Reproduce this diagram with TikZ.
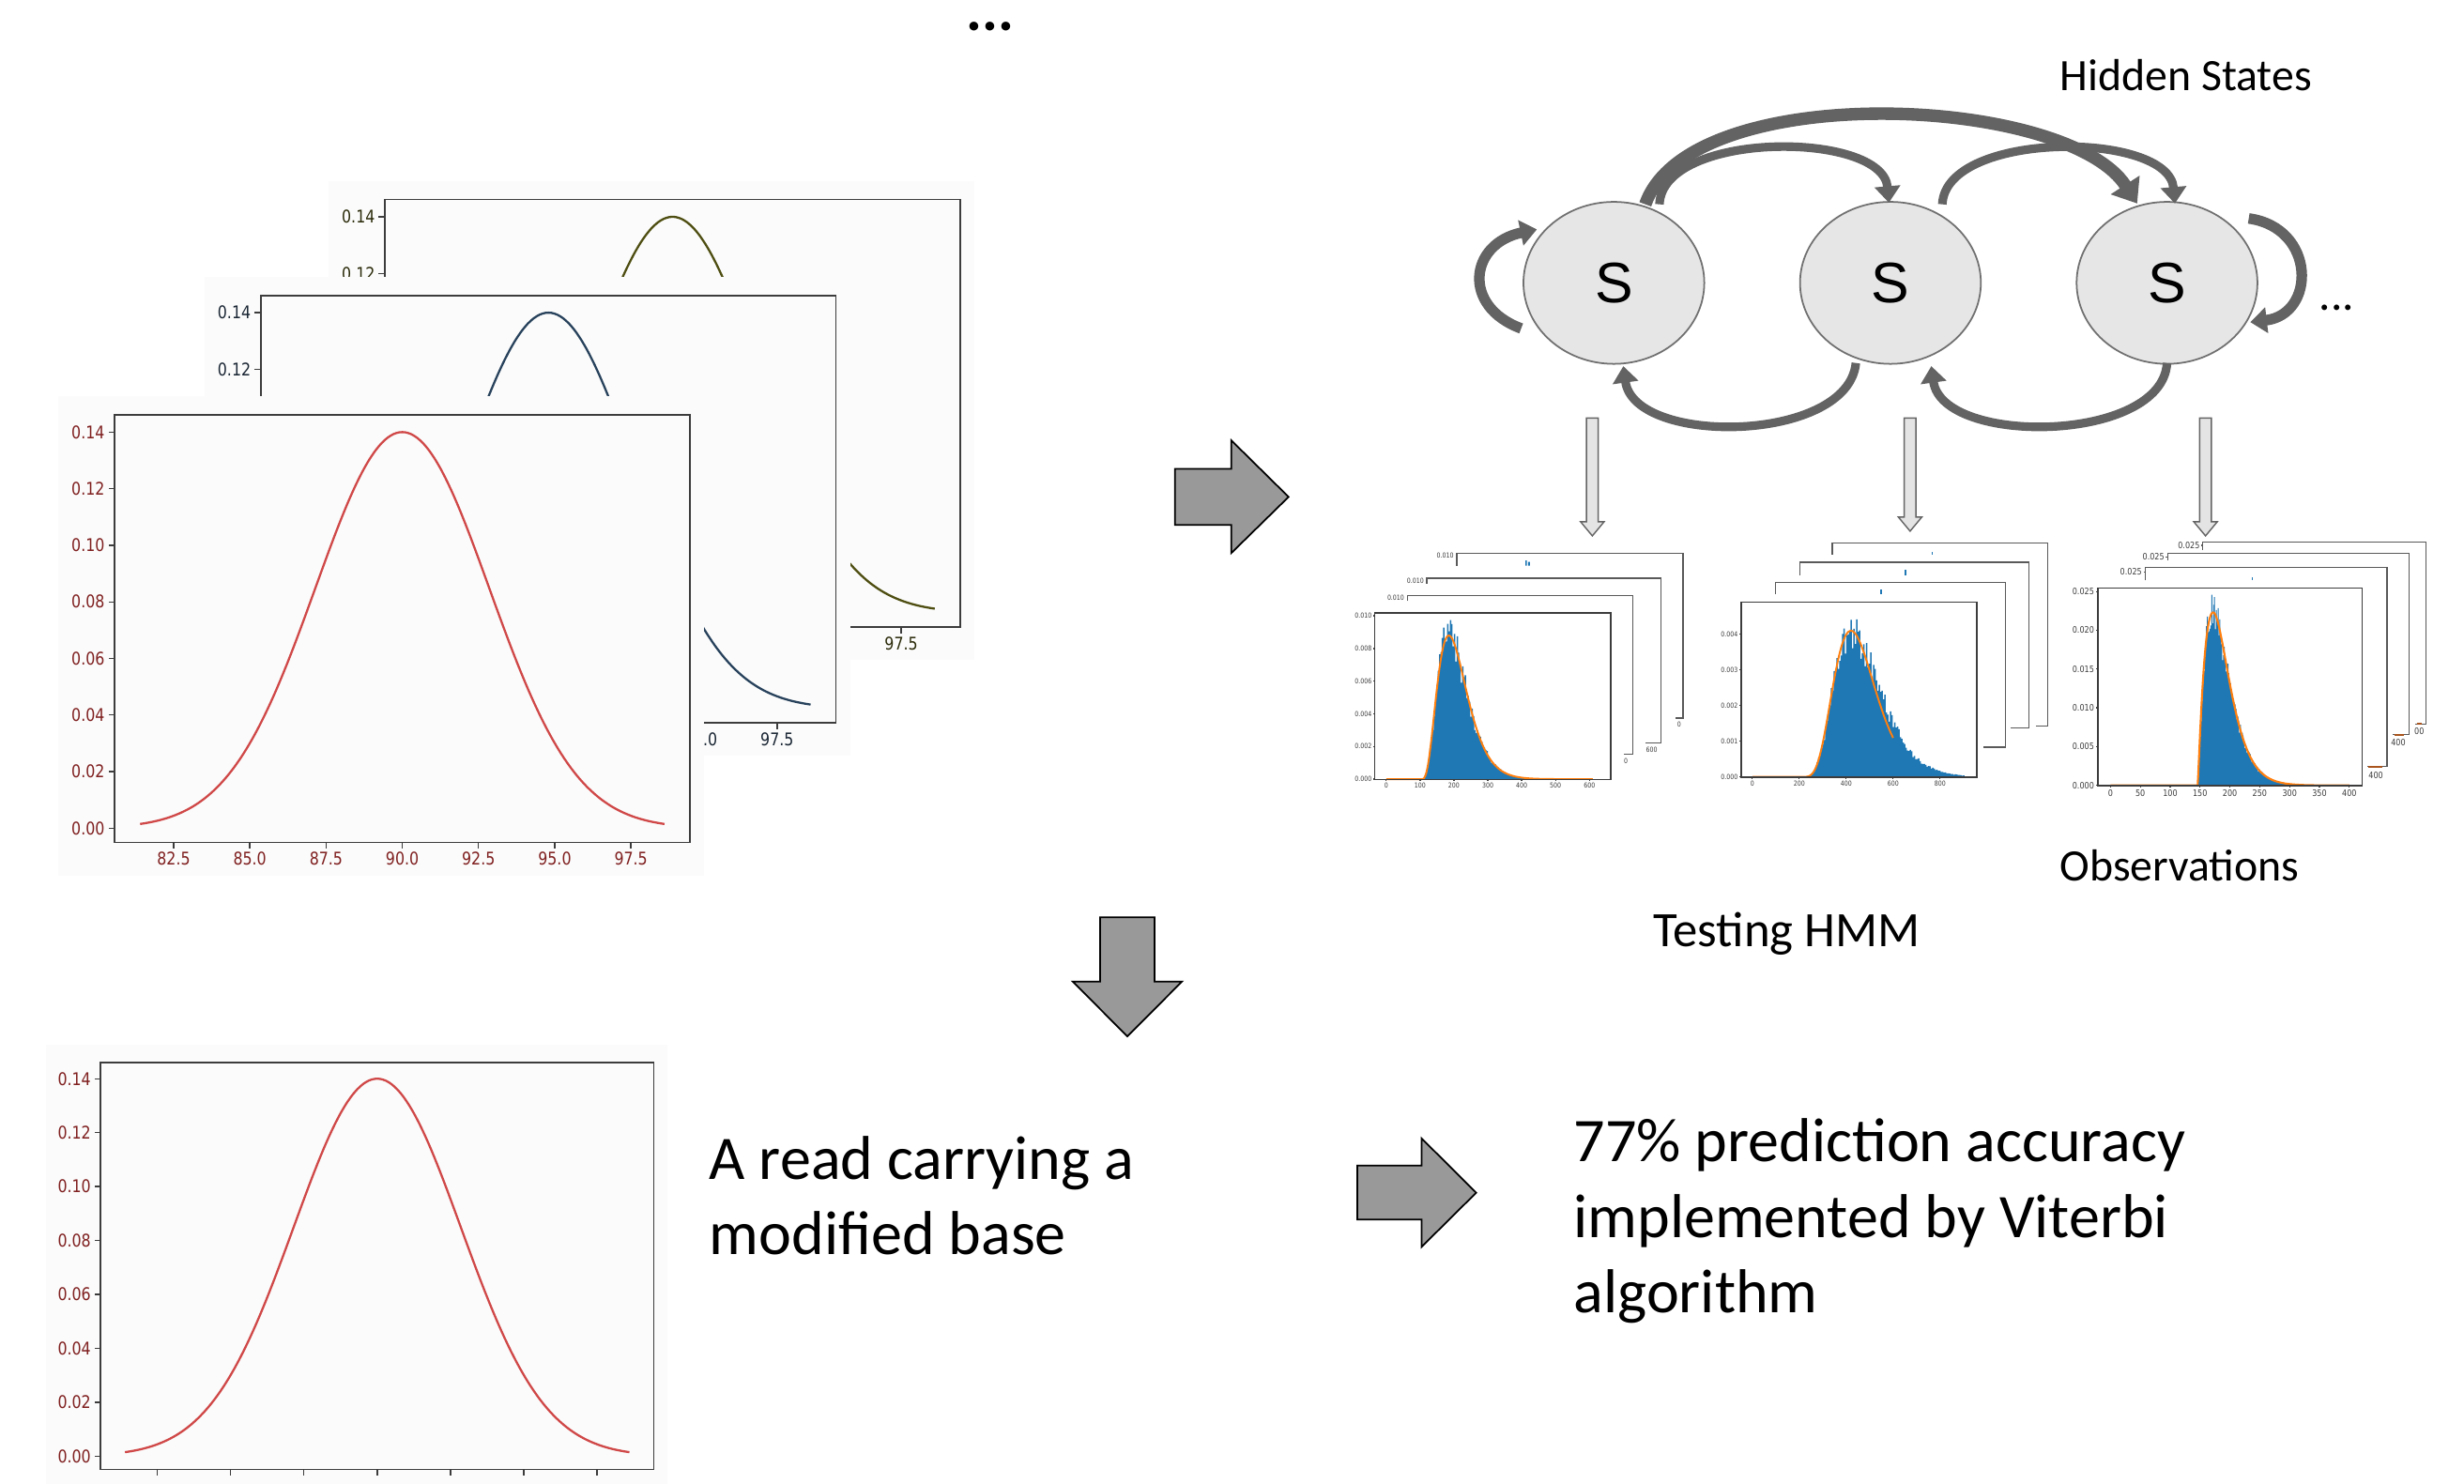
\documentclass[tikz,border=0pt]{standalone}
\usepackage{fontspec}
\setmainfont{Carlito}
\newfontfamily\statefont{Liberation Sans}
\newfontfamily\tickfont[FakeStretch=0.85]{DejaVu Sans}
\usetikzlibrary{arrows.meta,calc,shapes.geometric}

\definecolor{plotbg}{RGB}{251,251,251}
\definecolor{redcurve}{RGB}{208,72,72}
\definecolor{redlab}{RGB}{128,32,32}
\definecolor{navycurve}{RGB}{40,66,92}
\definecolor{navylab}{RGB}{26,38,52}
\definecolor{olivecurve}{RGB}{78,78,18}
\definecolor{olivelab}{RGB}{43,43,11}
\definecolor{histblue}{RGB}{31,119,180}
\definecolor{fitorange}{RGB}{255,127,14}
\definecolor{fitbrown}{RGB}{170,85,30}
\definecolor{statefill}{RGB}{230,230,230}
\definecolor{stateline}{RGB}{112,112,112}
\definecolor{transgray}{RGB}{99,99,99}
\definecolor{blockgray}{RGB}{153,153,153}
\definecolor{emitfill}{RGB}{228,228,228}
\definecolor{emitline}{RGB}{100,100,100}
\definecolor{axisgray}{RGB}{60,60,60}

\tikzset{
  gticklab/.style={font=\tickfont\fontsize{5.3}{6}\selectfont, inner sep=0pt},
  hlabA/.style={font=\tickfont\fontsize{2.1}{2.5}\selectfont, inner sep=0pt, text=axisgray},
  hlabC/.style={font=\tickfont\fontsize{2.7}{3}\selectfont, inner sep=0pt, text=axisgray},
  hax/.style={draw=axisgray, line width=0.35pt},
  hback/.style={draw=axisgray!85, line width=0.35pt},
  hmmstate/.style={ellipse, draw=stateline, fill=statefill, line width=0.5pt,
    minimum width=54.8pt, minimum height=49.1pt, inner sep=0pt,
    font=\statefont\fontsize{17.3}{20}\selectfont},
  trans/.style={draw=transgray, line width=2.6pt, -{Triangle[width=7.6pt,length=5pt]}},
  bigtrans/.style={draw=transgray, line width=3.8pt, -{Triangle[width=10pt,length=6.7pt]}},
  selfloop/.style={draw=transgray, line width=3.2pt, -{Triangle[width=7.6pt,length=5pt]}},
  blockarrow/.style={fill=blockgray, draw=black, line width=0.5pt, line join=miter},
  emit/.style={fill=emitfill, draw=emitline, line width=0.4pt},
  bigtext/.style={font=\fontsize{18.8}{22.9}\selectfont, inner sep=0pt},
  midtext/.style={font=\fontsize{13.6}{16}\selectfont, inner sep=0pt},
}

% one matplotlib-style density plot; #1 name prefix, #2/#3 top-left of the axes box,
% #4/#5 scale, #6 curve colour, #7 tick label colour, #8 = 1 to print the x tick labels
\newcommand\gaussplot[8]{%
  \begin{scope}[shift={(#2,#3)}, xscale=#4, yscale=#5]
    \fill[plotbg] (-36,-12) rectangle (375,293);
    \draw[axisgray, line width=0.45pt] (0,0) rectangle (366,272);
    \foreach \yy/\lab [count=\i] in {11/0.14,47/0.12,83/0.10,119/0.08,155/0.06,191/0.04,227/0.02,263/0.00}{
      \draw[axisgray, line width=0.4pt] (0,\yy) -- (-4,\yy);
      \node[gticklab, text=#7, anchor=east] (#1y\i) at (-6,\yy) {\lab};
    }
    \foreach \xx/\lab [count=\i] in {37.5/82.5,86/85.0,134.5/87.5,183/90.0,231.5/92.5,280/95.0,328.5/97.5}{
      \draw[axisgray, line width=0.4pt] (\xx,272) -- (\xx,276);
      \ifnum#8=1 \node[gticklab, text=#7, anchor=north] (#1x\i) at (\xx,278) {\lab};\fi
    }
    \draw[#6, line width=0.65pt] plot[domain=81.4:98.6, samples=90, smooth]
      ({183+(\x-90)*19.4},{263-252*exp(-(\x-90)*(\x-90)/16.245)});
  \end{scope}}

% hollow emission arrow: #1 centre x, #2 tip y
\newcommand\emitarrow[2]{%
  \draw[emit] ({#1-3.75},266) -- ({#1+3.75},266) -- ({#1+3.75},{#2-9}) -- ({#1+7.5},{#2-9})
    -- (#1,#2) -- ({#1-7.5},{#2-9}) -- ({#1-3.75},{#2-9}) -- cycle;}

\begin{document}
\begin{tikzpicture}[x=0.016741cm, y=-0.016741cm,
  declare function={
    fa(\u)=(\u>105)*8.8*exp(max(-9,3.3*(ln(max(\u-105,1)/80)-max(\u-105,1)/80+1)));
    fbc(\u)=(\u>200)*4.1*exp(max(-9,6*(ln(max(\u-200,1)/220)-max(\u-200,1)/220+1)));
    fbb(\u)=(\u>200)*4.1*exp(max(-9,((\u<420)?6:4.5)*(ln(max(\u-200,1)/220)-max(\u-200,1)/220+1)));
    fc(\u)=(\u>146)*22.3*exp(max(-9,((\u<172)?1.2:1.54)*(ln(max(\u-146,1)/26)-max(\u-146,1)/26+1)));
  }]
\clip (0,0) rectangle (1568,944);
\fill[white] (0,0) rectangle (1568,944);

% ---------- stacked density plots ----------
\gaussplot{gb}{245}{127}{1}{1}{olivecurve}{olivelab}{1}
\gaussplot{gm}{166}{188}{1}{1}{navycurve}{navylab}{1}
\gaussplot{gf}{73}{264}{1}{1}{redcurve}{redlab}{1}
\gaussplot{gs}{64}{676}{0.962}{0.953}{redcurve}{redlab}{0}

% ---------- block arrows ----------
\draw[blockarrow] (747.7,298.3) -- (783.5,298.3) -- (783.5,280.2) -- (820,316.2)
  -- (783.5,352) -- (783.5,334) -- (747.7,334) -- cycle;
\draw[blockarrow] (700,583.8) -- (734.7,583.8) -- (734.7,624.6) -- (752.2,624.6)
  -- (717.4,659.5) -- (682.6,624.6) -- (700,624.6) -- cycle;
\draw[blockarrow] (863.7,741.7) -- (904.6,741.7) -- (904.6,724.4) -- (939.4,759)
  -- (904.6,793.5) -- (904.6,776.1) -- (863.7,776.1) -- cycle;

% ---------- hidden Markov chain ----------
\node[hmmstate] (s1) at (1027,180) {S};
\node[hmmstate] (s2) at (1203,180) {S};
\node[hmmstate] (s3) at (1379,180) {S};

\draw[bigtrans] ($(s1)+(20,-50)$) .. controls ($(s1)+(48,-130)$) and ($(s3)+(-64,-120)$) .. ($(s3)+(-19,-50.5)$);
\draw[trans] ($(s1)+(29,-50)$) .. controls ($(s1)+(31,-97)$) and ($(s2)+(-5,-97)$) .. ($(s2)+(-1,-51)$);
\draw[trans] ($(s2)+(33,-50)$) .. controls ($(s2)+(35,-97)$) and ($(s3)+(1,-97)$) .. ($(s3)+(5,-50.5)$);
\draw[trans] ($(s2)+(-22,51)$) .. controls ($(s2)+(-27,102)$) and ($(s1)+(13,104)$) .. ($(s1)+(6,53)$);
\draw[trans] ($(s3)+(0,51)$) .. controls ($(s3)+(-3,102)$) and ($(s2)+(33,104)$) .. ($(s2)+(26,53)$);
\draw[selfloop] ($(s1)+(-59,29)$) .. controls ($(s1)+(-97,15)$) and ($(s1)+(-92,-25)$) .. ($(s1)+(-49,-34)$);
\draw[selfloop] ($(s3)+(52,-41)$) .. controls ($(s3)+(95,-35)$) and ($(s3)+(95,20)$) .. ($(s3)+(53,25)$);

\emitarrow{1013.3}{341}
\emitarrow{1215.5}{338}
\emitarrow{1403.5}{341}

% ---------- observation histograms, stack 1 ----------
\draw[hback] (927,360) -- (927,352) -- (1071,352) -- (1071,457) -- (1066.3,457);
\draw[hback] (908,371.3) -- (908,368) -- (1057,368) -- (1057,473) -- (1047.3,473);
\draw[hback] (895.6,382.5) -- (895.6,379) -- (1039,379) -- (1039,480) -- (1033.5,480);
\node[hlabA, anchor=east] (h1c) at (925.5,353.4) {0.010};
\node[hlabA, anchor=east] (h1b) at (906.5,369.4) {0.010};
\node[hlabA, anchor=east] (h1a) at (894,380.2) {0.010};
\node[hlabA, anchor=north] (h1bx) at (1051,475) {600};
\node[hlabA, anchor=north] (h1ax) at (1034.6,482) {0};
\node[hlabA, anchor=north] (h1cx) at (1068.5,459) {0};
\fill[histblue] (970.7,356.6) rectangle (971.6,360) (972.4,357.6) rectangle (973.5,360);

\begin{scope}[shift={(882.1,495.8)}, xscale=0.2156, yscale=-10.39]
  \pgfmathsetseed{11}
  \fill[histblue] (104,0) \foreach \u [evaluate=\u as \h using {fa(\u+2)*(1+0.14*rand)}] in {104,108,...,476}
    { -- (\u,\h) -- (\u+4,\h) } -- (480,0) -- cycle;
  \draw[fitorange, line width=0.55pt] plot[domain=0:610, samples=160] (\x,{fa(\x)});
\end{scope}
\draw[hax] (875,390) rectangle (1025,496);
\foreach \yy/\lab [count=\i] in {495.8/0.000,475.0/0.002,454.2/0.004,433.5/0.006,412.7/0.008,391.9/0.010}{
  \draw[hax] (875,\yy) -- (874,\yy);
  \node[hlabA, anchor=east] (h1y\i) at (873.3,\yy) {\lab};
}
\foreach \xx/\lab [count=\i] in {882.1/0,903.7/100,925.2/200,946.8/300,968.3/400,989.9/500,1011.5/600}{
  \draw[hax] (\xx,496) -- (\xx,497);
  \node[hlabA, anchor=north] (h1x\i) at (\xx,497.8) {\lab};
}

% ---------- observation histograms, stack 2 ----------
\draw[hback] (1166,352.8) -- (1166,345.5) -- (1303,345.5) -- (1303,462) -- (1295.3,462);
\draw[hback] (1145.5,366) -- (1145.5,357.8) -- (1291,357.8) -- (1291,463) -- (1279.3,463);
\draw[hback] (1130,378) -- (1130,370.8) -- (1276,370.8) -- (1276,475.5) -- (1262.4,475.5);
\fill[histblue] (1196.7,375.3) rectangle (1197.8,378);
\fill[histblue] (1212,362.4) rectangle (1213.2,366);
\fill[histblue] (1229,351) rectangle (1230,352.8);

\begin{scope}[shift={(1115.1,494.4)}, xscale=0.14935, yscale=-22.7]
  \pgfmathsetseed{23}
  \fill[histblue] (214,0) \foreach \u [evaluate=\u as \h using {fbb(\u+3)*(1+0.13*rand)}] in {214,220,...,898}
    { -- (\u,\h) -- (\u+6,\h) } -- (904,0) -- cycle;
  \draw[fitorange, line width=0.55pt] plot[domain=0:600, samples=150] (\x,{fbc(\x)});
\end{scope}
\draw[hax] (1108,383) rectangle (1258,494.6);
\foreach \yy/\lab [count=\i] in {494.4/0.000,471.7/0.001,449.0/0.002,426.3/0.003,403.6/0.004}{
  \draw[hax] (1108,\yy) -- (1107,\yy);
  \node[hlabA, anchor=east] (h2y\i) at (1106.3,\yy) {\lab};
}
\foreach \xx/\lab [count=\i] in {1115.1/0,1145.0/200,1174.8/400,1204.7/600,1234.6/800}{
  \draw[hax] (\xx,494.6) -- (\xx,495.6);
  \node[hlabA, anchor=north] (h2x\i) at (\xx,496.4) {\lab};
}

% ---------- observation histograms, stack 3 ----------
\draw[hback] (1401.8,350) -- (1401.8,344.9) -- (1543.7,344.9) -- (1543.7,460.6) -- (1536.8,460.6);
\draw[hback] (1379.3,356.4) -- (1379.3,352) -- (1533.2,352) -- (1533.2,467.5) -- (1522.8,467.5);
\draw[hback] (1365,369.4) -- (1365,361) -- (1519,361) -- (1519,487.8) -- (1506.3,487.8);
\draw[fitbrown, line width=0.5pt] (1507,487.8) -- (1516,487.8) (1524,467.5) -- (1530,467.5) (1538,460.6) -- (1541,460.6);
\foreach \xa/\ya [count=\i] in {1401.8/347.1,1379.3/354.4,1365/364}{
  \draw[hback] (\xa,\ya) -- (\xa-1,\ya);
  \node[hlabC, anchor=east] (h3b\i) at (\xa-1.6,\ya) {0.025};
}
\node[hlabC, anchor=north] (h3ax) at (1511.9,490.6) {400};
\node[hlabC, anchor=north] (h3bx) at (1526.2,469.9) {400};
\node[hlabC, anchor=north] (h3cx) at (1539.5,462.9) {00};
\fill[histblue] (1432.7,367.4) rectangle (1433.7,369.4);

\begin{scope}[shift={(1343.0,499.8)}, xscale=0.38, yscale=-4.936]
  \pgfmathsetseed{5}
  \fill[histblue] (146.5,0) \foreach \u [evaluate=\u as \h using {fc(\u+0.75)*(1+0.12*rand)}] in {146.5,148,...,299.5}
    { -- (\u,\h) -- (\u+1.5,\h) } -- (301,0) -- cycle;
  \draw[fitorange, line width=0.6pt] plot[domain=0:400, samples=401] (\x,{fc(\x)});
\end{scope}
\draw[hax] (1335,374) rectangle (1503,500);
\foreach \yy/\lab [count=\i] in {499.8/0.000,475.1/0.005,450.4/0.010,425.7/0.015,401.1/0.020,376.4/0.025}{
  \draw[hax] (1335,\yy) -- (1333.8,\yy);
  \node[hlabC, anchor=east] (h3y\i) at (1333,\yy) {\lab};
}
\foreach \xx/\lab [count=\i] in {1343/0,1362/50,1381/100,1400/150,1419/200,1438/250,1457/300,1476/350,1495/400}{
  \draw[hax] (\xx,500) -- (\xx,501.2);
  \node[hlabC, anchor=north] (h3x\i) at (\xx,502.2) {\lab};
}

% ---------- captions ----------
\node[inner sep=0pt, font=\bfseries\fontsize{18}{20}\selectfont] (topdots) at (630.3,16.9) {...};
\node[midtext] (hidden) at (1391,48) {Hidden States};
\node[inner sep=0pt, font=\fontsize{14}{16}\selectfont] (rdots) at (1487,196) {...};
\node[midtext] (obs) at (1387,551) {Observations};
\node[inner sep=0pt, font=\fontsize{15}{18}\selectfont] (testing) at (1137,594) {Testing HMM};
\node[bigtext, anchor=west, align=left] (readtext) at (451,761) {A read carrying a\\modified base};
\node[bigtext, anchor=west, align=left] (acctext) at (1001,777) {77\% prediction accuracy\\implemented by Viterbi\\algorithm};
\end{tikzpicture}
\end{document}
